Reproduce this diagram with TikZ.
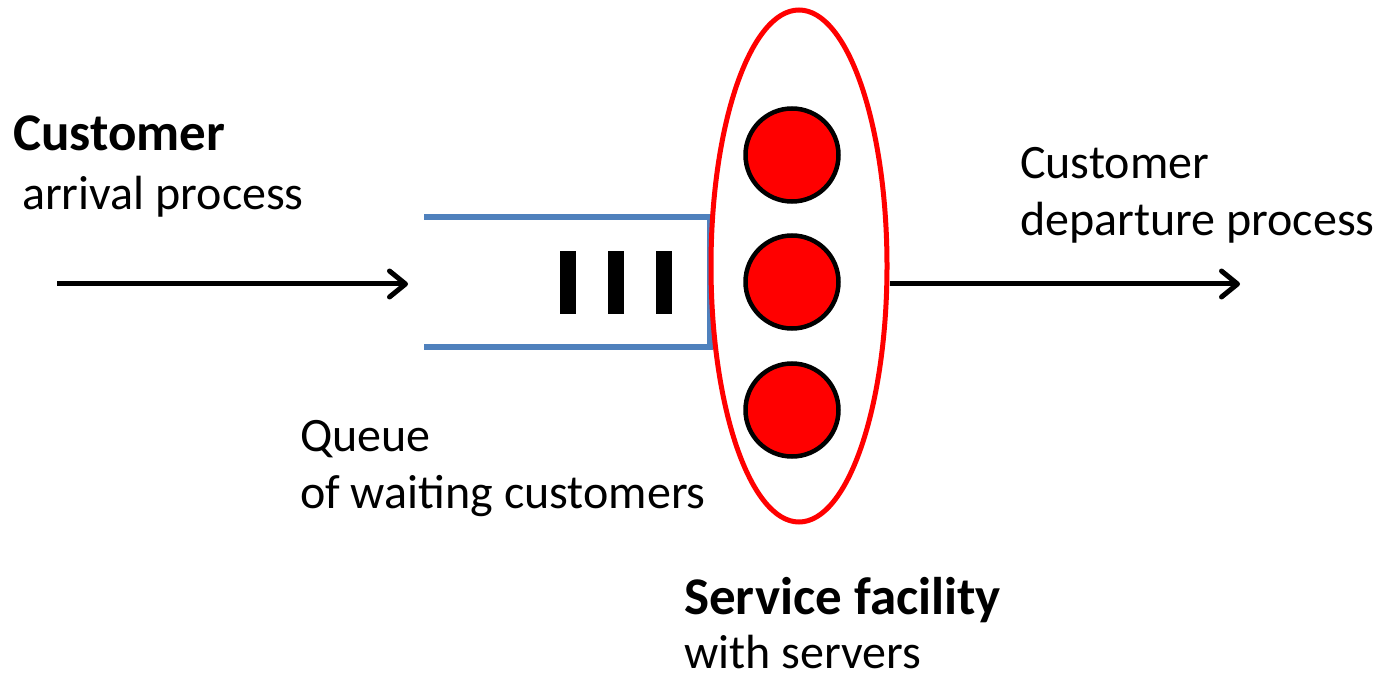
\documentclass[tikz,border=0pt]{standalone}
\usepackage{fontspec}
\setmainfont{Carlito}
\usetikzlibrary{arrows.meta,shapes.geometric}
\definecolor{qblue}{HTML}{4F81BD}
\definecolor{sred}{HTML}{FF0000}
\begin{document}
\begin{tikzpicture}[x=1pt,y=-1pt,
  lbl/.style={anchor=base west,inner sep=0pt,font=\fontsize{48}{57}\selectfont},
  blbl/.style={anchor=base west,inner sep=0pt,font=\fontsize{53}{60}\selectfont\bfseries},
  flow/.style={line width=5pt,-{Straight Barb[length=16pt,width=26pt,line cap=round,line join=round]}},
  qline/.style={draw=qblue,line width=6pt},
  bar/.style={fill=black,draw=none},
  server/.style={circle,fill=sred,draw=black,line width=4.5pt,minimum size=93pt,inner sep=0pt},
  facility/.style={ellipse,draw=sred,line width=5pt,minimum width=176pt,minimum height=512pt,inner sep=0pt}]
\useasboundingbox (0,0) rectangle (1377,679);
% texts
\node[blbl] (c1) at (13,151) {Customer};
\node[lbl] (c2) at (22,210) {arrival process};
\node[lbl] (d1) at (1020,179) {Customer};
\node[lbl] (d2) at (1020,236) {departure process};
\node[lbl] (q1) at (300,451) {Queue};
\node[lbl] (q2) at (300,508) {of waiting customers};
\node[blbl] (s1) at (684,614) {Service facility};
\node[lbl] (s2) at (684,668) {with servers};
% queue
\coordinate (qa) at (424,217);
\coordinate (qb) at (710,217);
\coordinate (qc) at (710,347);
\coordinate (qd) at (424,347);
\draw[qline,line join=miter] (qa) -- (qb) -- (qc) -- (qd);
\fill[bar] (560,251) rectangle (576,314);
\fill[bar] (608,251) rectangle (624,314);
\fill[bar] (656,251) rectangle (672,314);
% facility
\node[facility] (fac) at (799,266) {};
\node[server] (sv1) at (792,155) {};
\node[server] (sv2) at (792,282) {};
\node[server] (sv3) at (792,410) {};
% arrows
\coordinate (ain) at (57,284);
\coordinate (aend) at (408,284);
\draw[flow] (ain) -- (aend);
\coordinate (dend) at (1240,284);
\draw[flow] (fac.east |- dend) -- (dend);
\end{tikzpicture}
\end{document}
